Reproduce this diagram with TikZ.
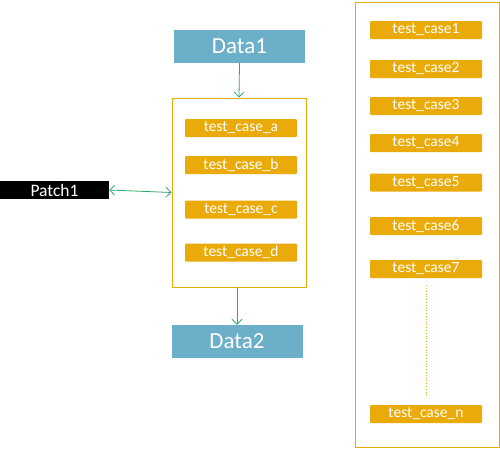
\documentclass[tikz,border=0pt]{standalone}
\usepackage{fontspec}
\setmainfont{Carlito}
\usetikzlibrary{arrows.meta}
\definecolor{databl}{HTML}{6BAFC8}
\definecolor{caseor}{HTML}{EAAB0A}
\definecolor{linkgr}{HTML}{2EA86C}
\begin{document}
\begin{tikzpicture}[x=1pt,y=-1pt,
  databox/.style={rectangle,fill=databl,text=white,minimum width=131pt,minimum height=33pt,inner sep=0pt,font=\fontsize{23}{25}\selectfont},
  casebox/.style={rectangle,fill=caseor,text=white,rounded corners=1pt,minimum width=112pt,minimum height=18pt,inner sep=0pt,font=\fontsize{15.5}{17}\selectfont},
  groupbox/.style={rectangle,draw=caseor,line width=1pt,inner sep=0pt},
  link/.style={draw=linkgr,line width=0.8pt,-{Straight Barb[length=5pt,width=10pt]}}]
\useasboundingbox (0,0) rectangle (500,448);
\node[databox] (D1) at (239.5,46.5) {Data1};
\node[groupbox,minimum width=134pt,minimum height=189pt] (G) at (239,192.5) {};
\node[casebox] (TCA) at (241,128) {test\_case\_a};
\node[casebox] (TCB) at (241,165) {test\_case\_b};
\node[casebox] (TCC) at (241,209.5) {test\_case\_c};
\node[casebox] (TCD) at (241,252.5) {test\_case\_d};
\node[rectangle,fill=black,text=white,minimum width=109pt,minimum height=18pt,inner sep=0pt,font=\fontsize{17.5}{19}\selectfont] (P1) at (54.5,190) {Patch1};
\node[databox] (D2) at (237,341.5) {Data2};
\draw[link] (D1.south) -- (G.north);
\draw[link,{Straight Barb[length=5pt,width=10pt]}-{Straight Barb[length=5pt,width=10pt]}] (P1.east) -- (G.west);
\draw[link] (G.south -| D2.north) -- (D2.north);
% all test cases
\node[groupbox,minimum width=144pt,minimum height=445pt] (ALL) at (427,224.5) {};
\foreach \i/\y in {1/30,2/69,3/106,4/143,5/182.5,6/226,7/269}
  \node[casebox] (TC\i) at (426,\y) {test\_case\i};
\node[casebox] (TCN) at (426,414) {test\_case\_n};
\draw[caseor,line width=0.8pt,dotted,shorten <=7pt,shorten >=8pt] (TC7.south) -- (TCN.north);
\end{tikzpicture}
\end{document}
